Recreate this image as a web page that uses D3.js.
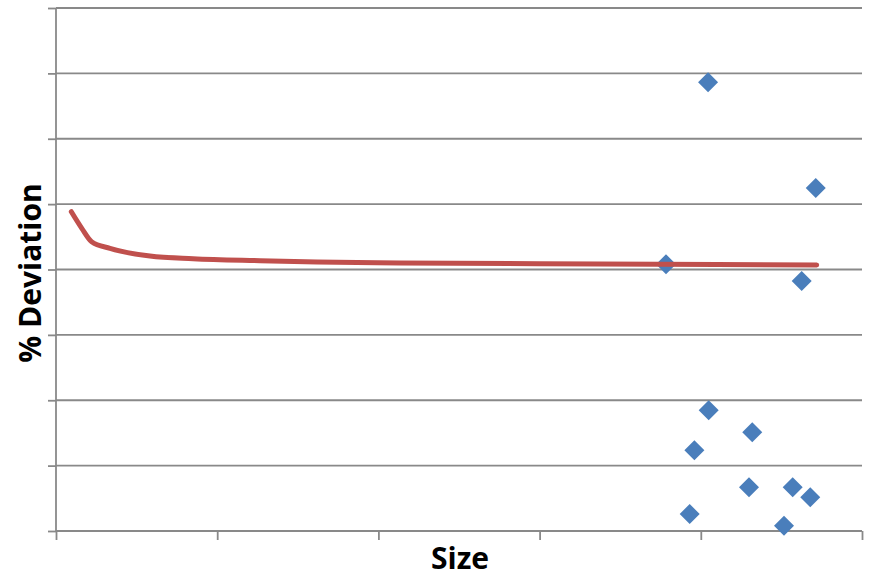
<!DOCTYPE html>
<html><head><meta charset="utf-8">
<script src="https://cdn.jsdelivr.net/npm/d3@7"></script>
<style>html,body{margin:0;padding:0;background:#fff;}svg{display:block;}</style>
</head><body>
<svg id="chart" width="870" height="573"></svg>
<script>
// Scatter points (Size, % Deviation)
const pointSize = [404.5, 471.3, 378.4, 462.6, 404.9, 431.9, 396.0, 429.9, 457.0, 467.9, 393.1, 451.6];
const pointDev  = [2.864, 1.247, 0.080, -0.176, -2.154, -2.490, -2.766, -3.332, -3.332, -3.485, -3.740, -3.919];
// Fitted curve
const curveSize = [9.5, 16, 22.1, 33.5, 58.3, 85, 126.6, 161.9, 213.4, 337.5, 471.9];
const curveDev  = [0.884, 0.63, 0.425, 0.324, 0.206, 0.165, 0.135, 0.115, 0.100, 0.084, 0.069];
// Axis ticks (unlabelled)
const xTicks = [0, 100, 200, 300, 400, 500];
const yTicks = [-4, -3, -2, -1, 0, 1, 2, 3, 4];
const xTitle = "Size";
const yTitle = "% Deviation";

const svg = d3.select("#chart");
const M = { left: 56, right: 862, top: 8, bottom: 531 };
const x = d3.scaleLinear().domain([0, 500]).range([M.left, M.right]);
const y = d3.scaleLinear().domain([-4, 4]).range([M.bottom, M.top]);
const gridColor = "#898989";

// gridlines
svg.append("g").selectAll("line").data(yTicks.filter(d => d !== -4)).join("line")
  .attr("x1", M.left).attr("x2", M.right)
  .attr("y1", d => y(d)).attr("y2", d => y(d))
  .attr("stroke", gridColor).attr("stroke-width", 1.8);

// axes
const yAxis = svg.append("g").attr("transform", `translate(${M.left},0)`)
  .call(d3.axisLeft(y).tickValues(yTicks).tickSize(8).tickFormat(""));
const xAxis = svg.append("g").attr("transform", `translate(0,${M.bottom})`)
  .call(d3.axisBottom(x).tickValues(xTicks).tickSize(9).tickFormat(""));
[yAxis, xAxis].forEach(g => {
  g.selectAll("path,line").attr("stroke", gridColor).attr("stroke-width", 1.8);
  g.select(".domain").remove();
});
svg.append("line").attr("x1", M.left).attr("x2", M.left).attr("y1", M.top).attr("y2", M.bottom)
  .attr("stroke", gridColor).attr("stroke-width", 1.8);
svg.append("line").attr("x1", M.left).attr("x2", M.right).attr("y1", M.bottom).attr("y2", M.bottom)
  .attr("stroke", gridColor).attr("stroke-width", 1.8);

// points
const pts = pointSize.map((s, i) => ({ s, d: pointDev[i] }));
svg.append("g").selectAll("path").data(pts).join("path")
  .attr("transform", d => `translate(${x(d.s)},${y(d.d)})`)
  .attr("d", "M0,-10L10,0L0,10L-10,0Z")
  .attr("fill", "#4a7ebb");

// curve
const cdata = curveSize.map((s, i) => ({ s, d: curveDev[i] }));
svg.append("path").datum(cdata)
  .attr("d", d3.line().x(d => x(d.s)).y(d => y(d.d)).curve(d3.curveMonotoneX))
  .attr("fill", "none").attr("stroke", "#c0504d").attr("stroke-width", 5)
  .attr("stroke-linecap", "round").attr("stroke-linejoin", "round");

// titles
svg.append("text").attr("x", 460).attr("y", 569).attr("text-anchor", "middle")
  .attr("font-family", "Open Sans, sans-serif").attr("font-weight", "bold").attr("font-size", 30)
  .attr("fill", "#000").text(xTitle);
svg.append("text").attr("transform", "translate(41,273) rotate(-90)").attr("text-anchor", "middle")
  .attr("font-family", "Open Sans, sans-serif").attr("font-weight", "bold").attr("font-size", 30)
  .attr("fill", "#000").text(yTitle);
</script>
</body></html>
